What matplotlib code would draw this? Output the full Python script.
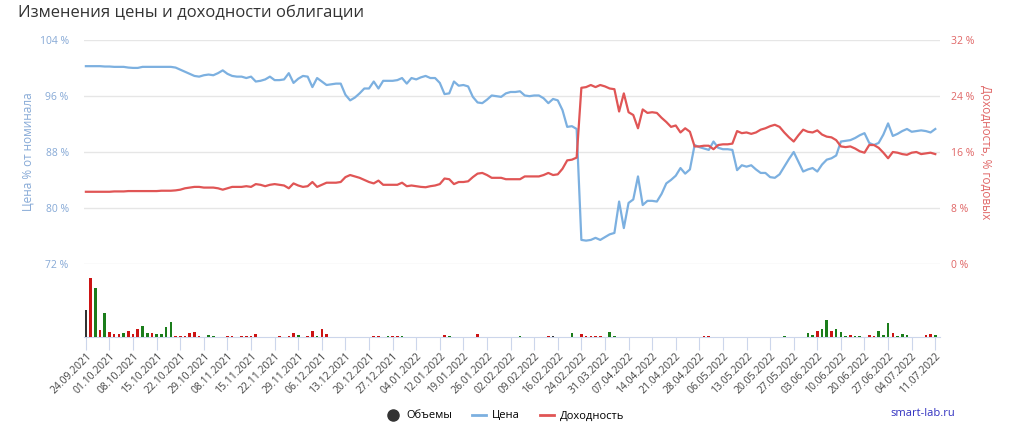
# -*- coding: utf-8 -*-
import matplotlib
matplotlib.use('Agg')
import matplotlib.pyplot as plt
from matplotlib.lines import Line2D
import numpy as np

plt.rcParams['font.family'] = ['Open Sans', 'DejaVu Sans']

# --- data ---
tick_labels = ['24.09.2021', '01.10.2021', '08.10.2021', '15.10.2021', '22.10.2021',
               '29.10.2021', '08.11.2021', '15.11.2021', '22.11.2021', '29.11.2021',
               '06.12.2021', '13.12.2021', '20.12.2021', '27.12.2021', '04.01.2022',
               '12.01.2022', '19.01.2022', '26.01.2022', '02.02.2022', '09.02.2022',
               '16.02.2022', '24.02.2022', '31.03.2022', '07.04.2022', '14.04.2022',
               '21.04.2022', '28.04.2022', '06.05.2022', '13.05.2022', '20.05.2022',
               '27.05.2022', '03.06.2022', '10.06.2022', '20.06.2022', '27.06.2022',
               '04.07.2022', '11.07.2022']

price = [100.3, 100.3, 100.3, 100.3, 100.25, 100.25, 100.2, 100.2, 100.2, 100.1,
         100.05, 100.05, 100.2, 100.2, 100.2, 100.2, 100.2, 100.2, 100.2, 100.1,
         99.8, 99.5, 99.2, 98.9, 98.8, 99.0, 99.1, 99.0, 99.3, 99.7,
         99.2, 98.9, 98.8, 98.8, 98.6, 98.8, 98.1, 98.2, 98.4, 98.8,
         98.3, 98.3, 98.4, 99.3, 97.9, 98.5, 98.9, 98.8, 97.3, 98.6,
         98.1, 97.6, 97.7, 97.8, 97.8, 96.2, 95.4, 95.8, 96.4, 97.1,
         97.1, 98.1, 97.1, 98.2, 98.2, 98.2, 98.3, 98.6, 97.8, 98.6,
         98.4, 98.7, 98.9, 98.6, 98.6, 97.9, 96.3, 96.4, 98.1, 97.5,
         97.6, 97.4, 95.9, 95.1, 95.0, 95.5, 96.1, 96.0, 95.9, 96.4,
         96.6, 96.6, 96.7, 96.1, 96.0, 96.1, 96.1, 95.7, 95.0, 95.6,
         95.4, 94.0, 91.6, 91.7, 91.3, 75.4, 75.3, 75.4, 75.7, 75.4,
         75.8, 76.2, 76.4, 80.9, 77.1, 80.7, 81.2, 84.5, 80.4, 81.0,
         81.0, 80.9, 82.0, 83.5, 84.0, 84.6, 85.7, 84.9, 85.5, 89.0,
         88.7, 88.5, 88.3, 89.5, 88.6, 88.4, 88.4, 88.3, 85.4, 86.1,
         85.9, 86.1, 85.5, 85.0, 85.0, 84.4, 84.3, 84.8, 85.9, 87.0,
         88.0, 86.6, 85.2, 85.5, 85.7, 85.2, 86.2, 86.9, 87.1, 87.5,
         89.5, 89.6, 89.7, 90.0, 90.4, 90.7, 89.3, 89.0, 89.3, 90.5,
         92.1, 90.3, 90.6, 91.0, 91.3, 90.9, 91.0, 91.1, 91.0, 90.8, 91.3]

yld = [10.3, 10.3, 10.3, 10.3, 10.3, 10.3, 10.35, 10.35, 10.35, 10.4,
       10.4, 10.4, 10.4, 10.4, 10.4, 10.4, 10.45, 10.45, 10.45, 10.5,
       10.6, 10.8, 10.9, 11.0, 11.0, 10.9, 10.9, 10.9, 10.8, 10.6,
       10.8, 11.0, 11.0, 11.0, 11.1, 11.0, 11.4, 11.3, 11.1, 11.3,
       11.4, 11.3, 11.2, 10.8, 11.5, 11.2, 11.0, 11.1, 11.7, 11.0,
       11.3, 11.6, 11.6, 11.6, 11.7, 12.4, 12.7, 12.5, 12.3, 12.0,
       11.7, 11.5, 11.9, 11.3, 11.3, 11.3, 11.3, 11.6, 11.1, 11.2,
       11.1, 11.0, 10.95, 11.1, 11.2, 11.4, 12.2, 12.1, 11.4, 11.7,
       11.7, 11.8, 12.4, 12.9, 13.0, 12.7, 12.3, 12.3, 12.3, 12.1,
       12.1, 12.1, 12.1, 12.5, 12.5, 12.5, 12.5, 12.7, 13.0, 12.7,
       12.8, 13.6, 14.8, 14.9, 15.2, 25.2, 25.3, 25.6, 25.3, 25.6,
       25.4, 25.1, 25.0, 21.8, 24.4, 21.7, 21.3, 19.4, 22.1, 21.6,
       21.7, 21.6, 20.9, 20.3, 19.6, 19.8, 18.8, 19.4, 18.9, 16.8,
       16.8, 16.9, 16.9, 16.4, 17.0, 17.1, 17.1, 17.2, 19.0, 18.7,
       18.8, 18.6, 18.8, 19.2, 19.4, 19.7, 19.9, 19.6, 18.8, 18.1,
       17.5, 18.4, 19.2, 18.9, 18.8, 19.1, 18.5, 18.2, 18.1, 17.7,
       16.8, 16.7, 16.8, 16.5, 16.1, 15.9, 17.0, 17.0, 16.6, 15.9,
       15.1, 16.0, 15.9, 15.7, 15.6, 15.9, 16.0, 15.7, 15.8, 15.9, 15.7]

# volume bars: day index, relative volume, direction (1 up, -1 down, 0 first day)
vol_idx = [0, 1, 2, 3, 4, 5, 6, 7, 8, 9, 10, 11, 12, 13, 14, 15, 16, 17, 18, 19,
           20, 21, 22, 23, 24, 26, 27, 30, 31, 33, 34, 35, 36, 41, 43, 44, 45, 47,
           48, 49, 50, 51, 61, 62, 64, 65, 66, 67, 76, 77, 83, 92, 98, 99, 103,
           105, 106, 107, 108, 109, 111, 112, 131, 132, 148, 153, 154, 155, 156,
           157, 158, 159, 160, 161, 162, 163, 164, 166, 167, 168, 169, 170, 171,
           172, 173, 174, 178, 179, 180]
vol_val = [27, 58, 48, 7, 24, 5, 2.7, 3.3, 4.3, 6, 2.7, 8.3, 11, 4.3, 4.3, 3.3, 2.7,
           10, 15, 1.3, 1.3, 1.3, 4.3, 5.3, 1.3, 2, 1, 1, 1, 1, 1, 1, 2.7, 1, 1,
           4.3, 2, 1, 6, 1, 8.3, 2.7, 1, 1, 1, 1, 1, 1, 2.3, 1, 3.3, 1, 1, 1, 4.3,
           3.3, 1, 1, 1, 1, 5.3, 1, 1, 1, 1, 4.3, 2, 6.3, 8, 17, 6, 8, 5.3, 1, 2,
           1, 1, 2, 1, 6, 2, 14, 4.3, 1, 2.7, 2, 2, 3.3, 2]
vol_dir = [0, -1, 1, -1, 1, -1, -1, -1, 1, -1, -1, -1, 1, 1, -1, 1, 1, 1, 1, -1,
           -1, -1, -1, -1, -1, 1, 1, -1, -1, -1, -1, -1, -1, -1, -1, -1, 1, -1,
           -1, 1, -1, -1, -1, -1, 1, -1, -1, 1, -1, 1, -1, 1, -1, 0, 1,
           -1, -1, -1, -1, -1, 1, 1, -1, -1, 1, 1, 1, -1, 1,
           1, -1, 1, 1, 1, -1, 1, 1, -1, -1, 1, 1, 1, -1,
           1, 1, 1, -1, -1, 1]

# --- styling ---
BLUE = '#7cb0e0'
RED = '#e05555'
BLUE_TXT = '#86a9d6'
RED_TXT = '#e06666'
dir_colors = {1: '#1b7d1b', -1: '#cc1414', 0: '#333333'}

x = np.arange(len(price))
tick_pos = np.arange(0, len(price), 5)

fig = plt.figure(figsize=(10.12, 4.41), dpi=100)

ax = fig.add_axes([84/1012, 1-264/441, (940-84)/1012, 224/441])
ax2 = ax.twinx()
axv = fig.add_axes([84/1012, 1-337/441, (940-84)/1012, 67/441])

ax.plot(x, price, color=BLUE, lw=1.6, solid_joinstyle='round', zorder=3)
ax2.plot(x, yld, color=RED, lw=1.6, solid_joinstyle='round', zorder=3)

ax.set_ylim(71.95, 104.05)
ax2.set_ylim(-0.05, 32.05)
ax.set_yticks([72, 80, 88, 96, 104])
ax2.set_yticks([0, 8, 16, 24, 32])
ax.set_yticklabels(['%d %%' % v for v in [72, 80, 88, 96, 104]])
ax2.set_yticklabels(['%d %%' % v for v in [0, 8, 16, 24, 32]])
ax.grid(axis='y', color='#e6e6e6', lw=1)
for a in (ax, ax2):
    a.set_xlim(-0.4, 181)
    a.set_xticks([])
    for s in a.spines.values():
        s.set_visible(False)
ax.tick_params(axis='y', length=0, colors=BLUE_TXT, labelsize=7.5, pad=11)
ax2.tick_params(axis='y', length=0, colors=RED_TXT, labelsize=7.5, pad=8)
ax.set_ylabel('Цена % от номинала', color=BLUE_TXT, fontsize=8.5, labelpad=4)
ax2.set_ylabel('Доходность, % годовых', color=RED_TXT, fontsize=8.5,
               rotation=-90, labelpad=13)

# volume panel
axv.bar(vol_idx, vol_val, width=0.55, color=[dir_colors[d] for d in vol_dir], zorder=3)
axv.set_xlim(-0.4, 181)
axv.set_ylim(0, max(vol_val) * 67 / 59)
axv.set_yticks([])
for k, s in axv.spines.items():
    s.set_visible(k == 'bottom')
axv.spines['bottom'].set_color('#ccd6eb')
axv.set_xticks(tick_pos)
axv.set_xticklabels(tick_labels, rotation=45, ha='right', rotation_mode='anchor',
                    fontsize=7.5, color='#444444')
axv.tick_params(axis='x', length=9, color='#ccd6eb', pad=1)

fig.text(18/1012, 1-13/441, 'Изменения цены и доходности облигации',
         fontsize=12, color='#333333', va='center', ha='left')

handles = [Line2D([], [], color='#333333', marker='o', ls='', markersize=8),
           Line2D([], [], color=BLUE, lw=2),
           Line2D([], [], color=RED, lw=2)]
fig.legend(handles, ['Объемы', 'Цена', 'Доходность'], loc='center',
           bbox_to_anchor=(505/1012, 1-416/441), ncol=3, frameon=False,
           fontsize=8, handlelength=1.3, handletextpad=0.5, columnspacing=1.8)
fig.text(890/1012, 1-414/441, 'smart-lab.ru', fontsize=8, color='#3030c0',
         va='center', ha='left')

fig.savefig('out.png', dpi=100)
